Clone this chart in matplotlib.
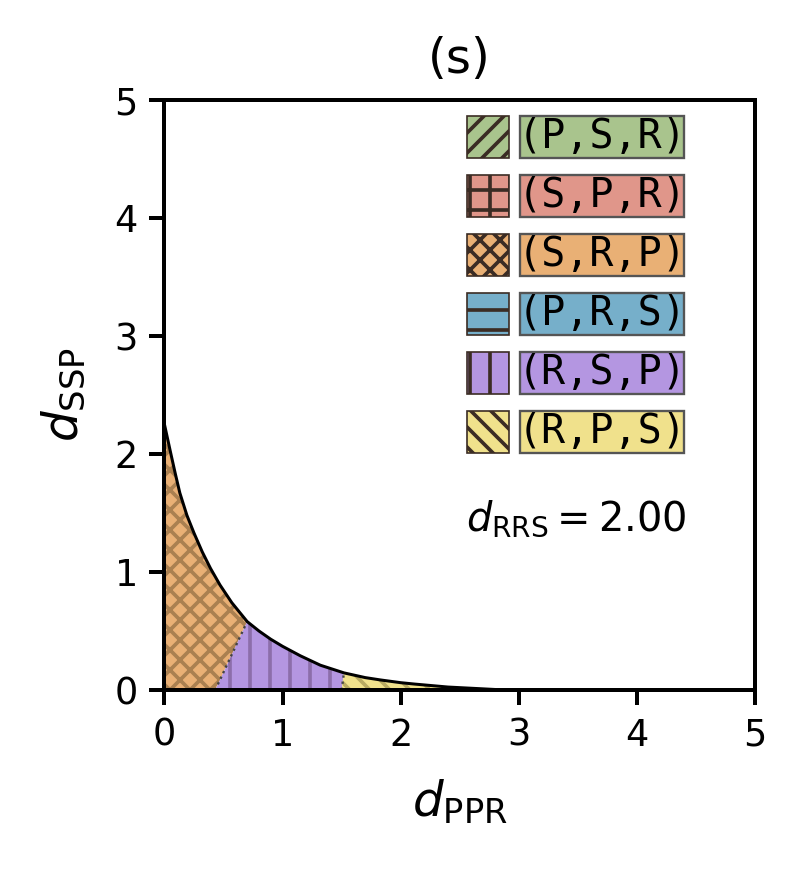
import numpy as np
import matplotlib
matplotlib.use('Agg')
import matplotlib.pyplot as plt
from matplotlib.patches import Rectangle, Polygon

# boundary curve
curve_x = [0.0, 0.05, 0.09, 0.13, 0.19, 0.25, 0.32, 0.39, 0.47, 0.57, 0.70,
           0.80, 0.90, 1.0, 1.15, 1.32, 1.52, 1.70, 1.83, 2.0, 2.12, 2.4, 2.69, 2.88]
curve_y = [2.25, 2.02, 1.84, 1.67, 1.48, 1.33, 1.17, 1.03, 0.89, 0.74, 0.58,
           0.50, 0.43, 0.37, 0.29, 0.21, 0.145, 0.105, 0.085, 0.062, 0.05, 0.025, 0.01, 0.0]

# region splits: (x at bottom, x at curve)
split_orange_purple = (0.43, 0.70)
split_purple_yellow = (1.50, 1.52)

legend_labels = ['(P,S,R)', '(S,P,R)', '(S,R,P)', '(P,R,S)', '(R,S,P)', '(R,P,S)']
legend_colors = ['#a9c48d', '#e0968a', '#e9b075', '#76afca', '#b496e1', '#f0e18c']
legend_hatches = ['////', '++', 'xxxx', '--', '||', '\\\\\\\\']
legend_y = [4.69, 4.19, 3.69, 3.19, 2.69, 2.19]

d_rrs = 2.00

plt.rcParams['hatch.linewidth'] = 1.1
plt.rcParams['font.family'] = 'DejaVu Sans'

fig = plt.figure(figsize=(800 / 240, 869 / 240), dpi=240)
ax = fig.add_axes([0.2056, 0.206, 0.738, 0.679])

cx = np.array(curve_x)
cy = np.array(curve_y)

def region(x0, x1, b0, b1):
    m = (cx >= x0) & (cx <= x1)
    pts = [(b0, 0.0)] + list(zip(cx[m], cy[m])) + [(b1, 0.0)]
    return pts

regions = [
    (region(0.0, split_orange_purple[1], 0.0, split_orange_purple[0]), '#e9b075', '#aa8050', 'xxxx'),
    (region(split_orange_purple[1], split_purple_yellow[1], split_orange_purple[0], split_purple_yellow[0]),
     '#b496e1', '#8c6eaa', '||'),
    (region(split_purple_yellow[1], 3.0, split_purple_yellow[0], cx[-1]), '#f0e18c', '#b8aa62', '\\\\\\\\'),
]
for pts, fc, hc, h in regions:
    ax.add_patch(Polygon(pts, closed=True, facecolor=fc, edgecolor=hc, hatch=h, lw=0))

# dividing lines
for b, t in [split_orange_purple, split_purple_yellow]:
    ax.plot([b, t], [0, np.interp(t, cx, cy)], ls=':', color='#444444', lw=0.7)

ax.plot(cx, cy, color='black', lw=0.9)

# legend
for lab, col, h, yc in zip(legend_labels, legend_colors, legend_hatches, legend_y):
    ax.add_patch(Rectangle((2.56, yc - 0.178), 0.355, 0.356, facecolor=col,
                           edgecolor='#3b2c24', hatch=h, lw=0.5))
    ax.add_patch(Rectangle((3.01, yc - 0.178), 1.39, 0.356, facecolor=col,
                           edgecolor='#555555', lw=0.7))
    ax.text(3.705, yc, lab, ha='center', va='center', fontsize=12,
            family='DejaVu Sans Mono')

ax.text(2.55, 1.45, r'$d_{\mathrm{RRS}} = %.2f$' % d_rrs, ha='left', va='center', fontsize=12)

ax.set_xlim(0, 5)
ax.set_ylim(0, 5)
ax.set_xticks([0, 1, 2, 3, 4, 5])
ax.set_yticks([0, 1, 2, 3, 4, 5])
ax.tick_params(labelsize=11, length=4.5, width=1.2)
for s in ax.spines.values():
    s.set_linewidth(1.2)
ax.set_xlabel(r'$d_{\mathrm{PPR}}$', fontsize=14.5, labelpad=7)
ax.set_ylabel(r'$d_{\mathrm{SSP}}$', fontsize=14.5, labelpad=8)
ax.set_title('(s)', fontsize=14.5, pad=8)

fig.savefig('out.png', dpi=240)
